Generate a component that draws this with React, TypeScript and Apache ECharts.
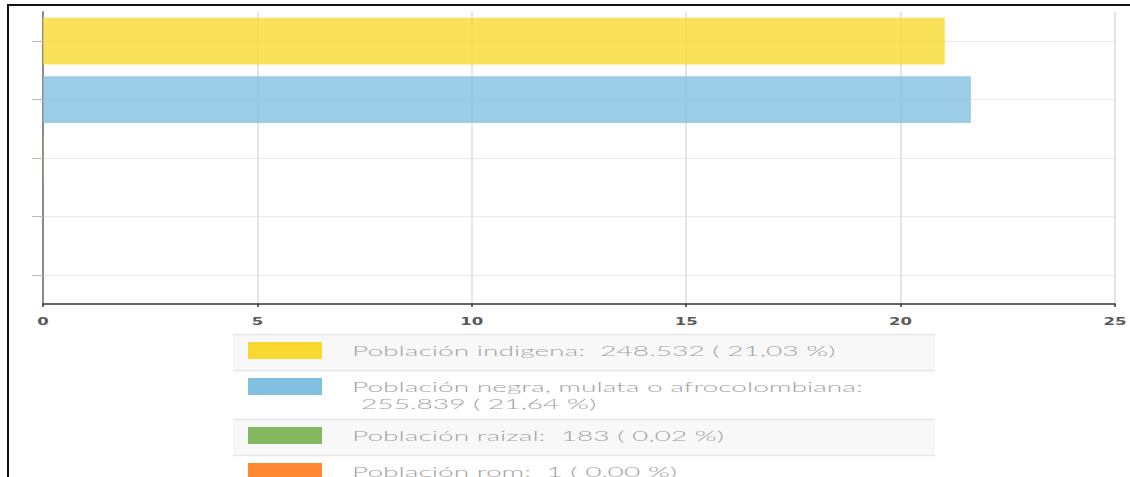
import React, { useEffect, useRef } from "react";
import * as echarts from "echarts";

// ---- data ----
const categories = [
  "Población indigena",
  "Población negra, mulata o afrocolombiana",
  "Población raizal",
  "Población rom",
  "",
];
const percentValues: (number | null)[] = [21.03, 21.64, 0.02, 0.0, null];
const populationCounts = ["248.532", "255.839", "183", "1"];
const percentLabels = ["21,03", "21,64", "0,02", "0,00"];
const barColors = ["#F9D931", "#82C0E0", "#84B761", "#FF8833", "#CC4748"];
const xTickValues = [0, 5, 10, 15, 20, 25];

const LEGEND_FONT = "'Lato Light', Lato";
const LEGEND_FS = 14.5;

export default function App() {
  const ref = useRef<HTMLDivElement>(null);

  useEffect(() => {
    if (!ref.current) return;
    const chart = echarts.init(ref.current, undefined, { renderer: "svg" });

    chart.setOption({
      animation: false,
      grid: { left: 43, right: 15, top: 12, bottom: 173, containLabel: false },
      xAxis: {
        type: "value",
        min: xTickValues[0],
        max: xTickValues[xTickValues.length - 1],
        interval: xTickValues[1] - xTickValues[0],
        axisLine: { show: true, lineStyle: { color: "#333", width: 1.5 } },
        axisTick: { show: true, length: 3, lineStyle: { color: "#333", width: 1.5 } },
        axisLabel: { show: false },
        splitLine: { show: true, lineStyle: { color: "#DDDDDD", width: 1.5 } },
      },
      yAxis: {
        type: "category",
        data: categories,
        inverse: true,
        axisLine: { show: true, lineStyle: { color: "#8A8A8A", width: 2 } },
        axisTick: {
          show: true,
          alignWithLabel: true,
          length: 11,
          lineStyle: { color: "#BBBBBB", width: 1 },
        },
        axisLabel: { show: false },
        splitLine: {
          show: true,
          alignWithLabel: true,
          lineStyle: { color: "#EBEBEB", width: 1 },
        } as any,
      },
      series: [
        {
          type: "bar",
          barWidth: "80%",
          data: percentValues.map((v, i) => ({
            value: v,
            itemStyle: { color: barColors[i], opacity: 0.8 },
          })),
          silent: true,
        },
      ],
    });

    const ctx = document.createElement("canvas").getContext("2d")!;
    ctx.font = `300 ${LEGEND_FS}px ${LEGEND_FONT}`;
    const measure = (t: string) => ctx.measureText(t).width;

    const legendTexts = populationCounts.map(
      (c, i) => `${categories[i]}:  ${c} ( ${percentLabels[i]} %)`
    );
    const sx = 484 / measure(legendTexts[0]);

    const legendX0 = 233;
    const legendX1 = 935;
    const textX = 352;
    const maxTextW = legendX1 - textX - 10;

    const graphic: any[] = [];

    // x axis tick labels (wide style) positioned through the axis scale
    ctx.font = `600 10px 'DejaVu Sans'`;
    const lblScale = 23 / ctx.measureText("10").width;
    xTickValues.forEach((v) => {
      const px = chart.convertToPixel({ xAxisIndex: 0 }, v) as number;
      graphic.push({
        type: "text",
        x: px,
        y: 321,
        scaleX: lblScale,
        style: {
          text: String(v),
          fill: "#5A5A5A",
          fontSize: 10,
          fontFamily: "DejaVu Sans",
          fontWeight: 600,
          align: "center",
          verticalAlign: "middle",
        },
        silent: true,
      });
    });

    let y = 334;
    legendTexts.forEach((full, i) => {
      let lines: { t: string; dx: number }[];
      if (measure(full) * sx > maxTextW) {
        lines = [
          { t: `${categories[i]}:`, dx: 0 },
          { t: `${populationCounts[i]} ( ${percentLabels[i]} %)`, dx: 9 },
        ];
      } else {
        lines = [{ t: full, dx: 0 }];
      }
      const h = Math.max(36, 16 + 17 * (lines.length - 1) + 16);
      graphic.push({
        type: "rect",
        shape: { x: legendX0, y, width: legendX1 - legendX0, height: h },
        style: { fill: i % 2 === 0 ? "#F8F8F8" : "#FFFFFF" },
        silent: true,
      });
      graphic.push({
        type: "line",
        shape: { x1: legendX0, y1: y + 0.5, x2: legendX1, y2: y + 0.5 },
        style: { stroke: "#E6E6E6", lineWidth: 1.5 },
        silent: true,
      });
      graphic.push({
        type: "rect",
        shape: { x: 248, y: y + 8, width: 74, height: 17 },
        style: { fill: barColors[i] },
        silent: true,
      });
      lines.forEach((ln, k) => {
        graphic.push({
          type: "text",
          x: textX + ln.dx,
          y: y + 16 + 17 * k,
          scaleX: sx,
          style: {
            text: ln.t,
            fill: "#A3A3A3",
            fontSize: LEGEND_FS,
            fontFamily: LEGEND_FONT,
            fontWeight: 300,
            align: "left",
            verticalAlign: "middle",
          },
          silent: true,
        });
      });
      y += h;
    });

    // page frame lines
    graphic.push({
      type: "rect",
      shape: { x: 7, y: 4, width: 1123, height: 2 },
      style: { fill: "#111" },
      silent: true,
    });
    graphic.push({
      type: "rect",
      shape: { x: 7, y: 4, width: 2, height: 473 },
      style: { fill: "#111" },
      silent: true,
    });

    chart.setOption({ graphic });

    return () => chart.dispose();
  }, []);

  return (
    <div
      ref={ref}
      style={{ position: "absolute", left: 0, top: 0, width: 1130, height: 477, background: "#fff" }}
    />
  );
}
